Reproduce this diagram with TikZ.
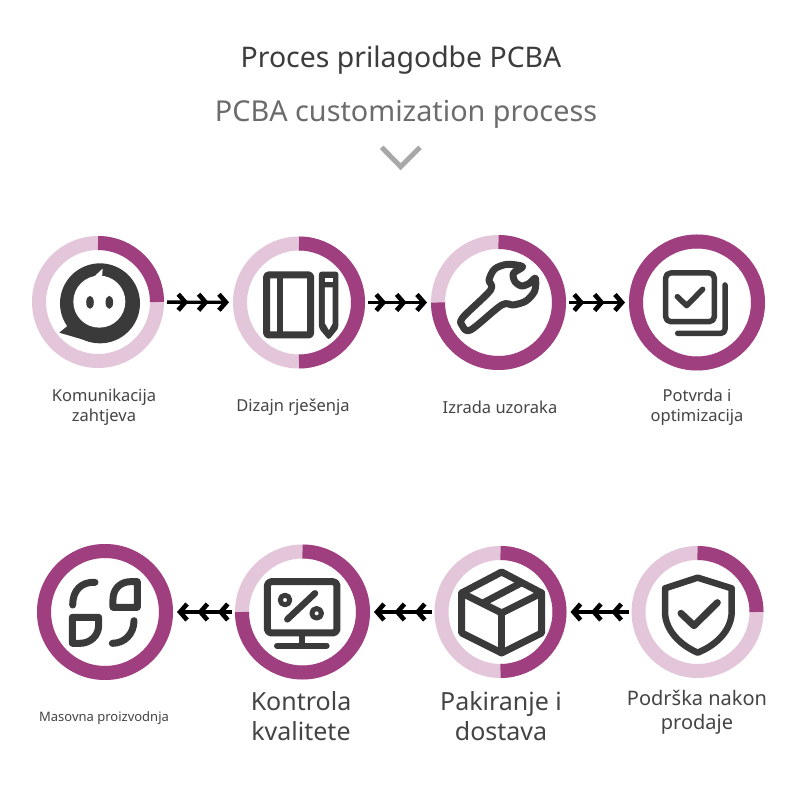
\documentclass[tikz,border=0pt]{standalone}
\usepackage{fontspec}
\setmainfont{Noto Sans}
\usetikzlibrary{arrows.meta}
\definecolor{ringdark}{HTML}{A03F80}
\definecolor{ringlight}{HTML}{E4C6DA}
\definecolor{icondark}{HTML}{3A3A3A}
\definecolor{titledark}{HTML}{3C3C3C}
\definecolor{titlegrey}{HTML}{6C6C6C}
\definecolor{labelgrey}{HTML}{444444}
\tikzset{
  zm/.style 2 args={shift={(#1,800-#2)},x=0.33333pt,y=-0.33333pt},
  ringnode/.style={circle,inner sep=0pt,outer sep=0pt,minimum size=#1},
  iconline/.style={draw=icondark,line width=#1,line join=round,line cap=round},
  chevtip/.tip={Straight Barb[length=7pt,width=16pt,line width=4.6pt]},
  flow/.style={line width=3.4pt,draw=black,shorten <=3pt,shorten >=4pt,
    -{chevtip[sep=8pt]chevtip[sep=8pt]chevtip}},
  steplabel/.style={text=labelgrey,align=center,inner sep=0pt},
}
% name, x, y (from the top), outer radius, swept angle
\newcommand{\progring}[5]{%
  \node[ringnode={2*#4}] (#1) at (#2,800-#3) {};
  \draw[ringlight,line width=14pt] (#1.center) circle[radius=#4-7];
  \draw[ringdark,line width=14pt] ([shift={(90:#4-7)}]#1.center) arc[start angle=90,delta angle=-#5,radius=#4-7];
}
\begin{document}
\begin{tikzpicture}[x=1pt,y=1pt]
\useasboundingbox (0,0) rectangle (800,800);
\fill[white] (0,0) rectangle (800,800);

% titles
\node[text=titledark,inner sep=0pt,font=\fontsize{28.4}{32}\selectfont] (title) at (401,740) {Proces prilagodbe PCBA};
\node[text=titlegrey,inner sep=0pt,font=\fontsize{28.8}{32}\selectfont] (subtitle) at (406,686) {PCBA customization process};
\begin{scope}[zm={200}{30}]
  \coordinate (chevl) at (545,352);
  \coordinate (chevm) at (602,410);
  \coordinate (chevr) at (660,352);
\end{scope}
\draw[color=black!34,line width=5pt,line join=miter] (chevl) -- (chevm) -- (chevr);

% rings
\progring{ringA}{98}{302}{66}{90}
\progring{ringB}{299}{302.5}{66}{180}
\progring{ringC}{498.5}{302.5}{67.5}{270}
\progring{ringD}{697}{302.5}{68}{360}
\progring{ringE}{105}{612}{68}{360}
\progring{ringF}{302.5}{612}{67.5}{270}
\progring{ringG}{500.5}{612}{66}{180}
\progring{ringH}{697.5}{612}{66}{90}

% connectors
\draw[flow] (ringA) -- (ringB);
\draw[flow] (ringB) -- (ringC);
\draw[flow] (ringC) -- (ringD);
\draw[flow] (ringH) -- (ringG);
\draw[flow] (ringG) -- (ringF);
\draw[flow] (ringF) -- (ringE);

% icon 1: speech bubble
\begin{scope}[zm={40}{250}]
  \fill[icondark] (180,160) circle[radius=40pt];
  \fill[icondark] (58,248) -- (110,205) -- (150,275) -- cycle;
  \fill[white] (178,155) circle[radius=26pt];
  \fill[white] (160,82) -- (188,56) -- (186,85) -- cycle;
  \fill[icondark] (150,157) ellipse[x radius=3.8pt,y radius=6.5pt];
  \fill[icondark] (208,157) ellipse[x radius=3.8pt,y radius=6.5pt];
\end{scope}

% icon 2: notebook and pen
\begin{scope}[zm={0}{220}]
  \draw[iconline=7pt,rounded corners=1.5pt] (800,165) rectangle (932,345);
  \draw[iconline=6pt,line cap=butt] (841,165) -- (841,345);
  \fill[icondark,rounded corners=2.5pt] (957,155) -- (1015,155) -- (1015,325) -- (986,360) -- (957,325) -- cycle;
  \fill[white] (975,175) rectangle (998,185);
  \fill[white] (975,202) -- (998,202) -- (998,310) -- (986.5,330) -- (975,310) -- cycle;
\end{scope}

% icon 3: wrench
\begin{scope}[zm={450}{255}]
  \draw[iconline=7pt] plot[smooth cycle,tension=0.5] coordinates {
    (62,225) (155,150) (190,150) (228,138) (254,108) (256,70)
    (238,85) (215,93) (195,80) (190,55) (218,35) (172,28) (134,42) (117,75)
    (122,105) (38,188) (37,212)};
\end{scope}

% icon 4: checked copies
\begin{scope}[zm={400}{220}]
  \draw[iconline=5.5pt,rounded corners=5pt] (797,159) rectangle (943,305);
  \draw[iconline=5.5pt] (832,230) -- (860,257) -- (908,208);
  \draw[iconline=5.5pt,rounded corners=4pt] (975,195) -- (975,340) -- (833,340);
\end{scope}

% icon 5: scan corners
\begin{scope}[zm={0}{530}]
  \draw[iconline=7pt] (285,157) .. controls (245,155) and (218,180) .. (218,225);
  \draw[iconline=7pt,line join=round] (412,155) -- (412,232) -- (339,232) -- (339,208) .. controls (339,178) and (360,155) .. (392,155) -- cycle;
  \draw[iconline=7pt,line join=round] (217,262) -- (296,262) -- (296,285) .. controls (296,318) and (270,340) .. (240,340) -- (217,340) -- cycle;
  \draw[iconline=7pt] (402,272) .. controls (402,310) and (375,340) .. (337,340);
\end{scope}

% icon 6: monitor with percent sign
\begin{scope}[zm={0}{530}]
  \draw[iconline=7pt,rounded corners=4pt] (802,155) rectangle (1011,309);
  \draw[iconline=6pt,line cap=butt] (907,310) -- (907,347);
  \draw[iconline=6pt] (831,347) -- (980,347);
  \draw[iconline=5pt] (855,210) circle[radius=4.8pt];
  \draw[iconline=5pt] (950,250) circle[radius=4.8pt];
  \draw[iconline=6.5pt] (862,268) -- (945,190);
\end{scope}

% icon 7: box
\begin{scope}[zm={400}{530}]
  \draw[iconline=7pt] (305,126) -- (425,189) -- (425,309) -- (305,369) -- (185,309) -- (185,189) -- cycle;
  \draw[iconline=7pt] (185,189) -- (305,249) -- (425,189);
  \draw[iconline=7pt] (305,249) -- (305,369);
  \draw[iconline=7pt,line cap=butt] (247,220) -- (365,158);
\end{scope}

% icon 8: shield
\begin{scope}[zm={400}{530}]
  \draw[iconline=6.5pt] (893,143) -- (995,175) -- (995,245) .. controls (995,300) and (950,345) .. (893,368) .. controls (840,345) and (795,300) .. (795,245) -- (795,175) -- cycle;
  \draw[iconline=7pt] (843,250) -- (882,287) -- (952,218);
\end{scope}

% labels
\node[steplabel,font=\fontsize{16.5}{20.5}\selectfont] (labA) at (104,393) {Komunikacija\\zahtjeva};
\node[steplabel,font=\fontsize{16.5}{20.5}\selectfont] (labB) at (293,393) {Dizajn rješenja};
\node[steplabel,font=\fontsize{16.5}{20.5}\selectfont] (labC) at (500,393) {Izrada uzoraka};
\node[steplabel,font=\fontsize{16.5}{20.5}\selectfont] (labD) at (697,393) {Potvrda i\\optimizacija};
\node[steplabel,font=\fontsize{13}{15}\selectfont] (labE) at (104,82) {Masovna proizvodnja};
\node[steplabel,font=\fontsize{25}{30}\selectfont] (labF) at (301,84) {Kontrola\\kvalitete};
\node[steplabel,font=\fontsize{25}{30}\selectfont] (labG) at (501,84) {Pakiranje i\\dostava};
\node[steplabel,font=\fontsize{20}{24}\selectfont] (labH) at (697,88) {Podrška nakon\\prodaje};
\end{tikzpicture}
\end{document}
